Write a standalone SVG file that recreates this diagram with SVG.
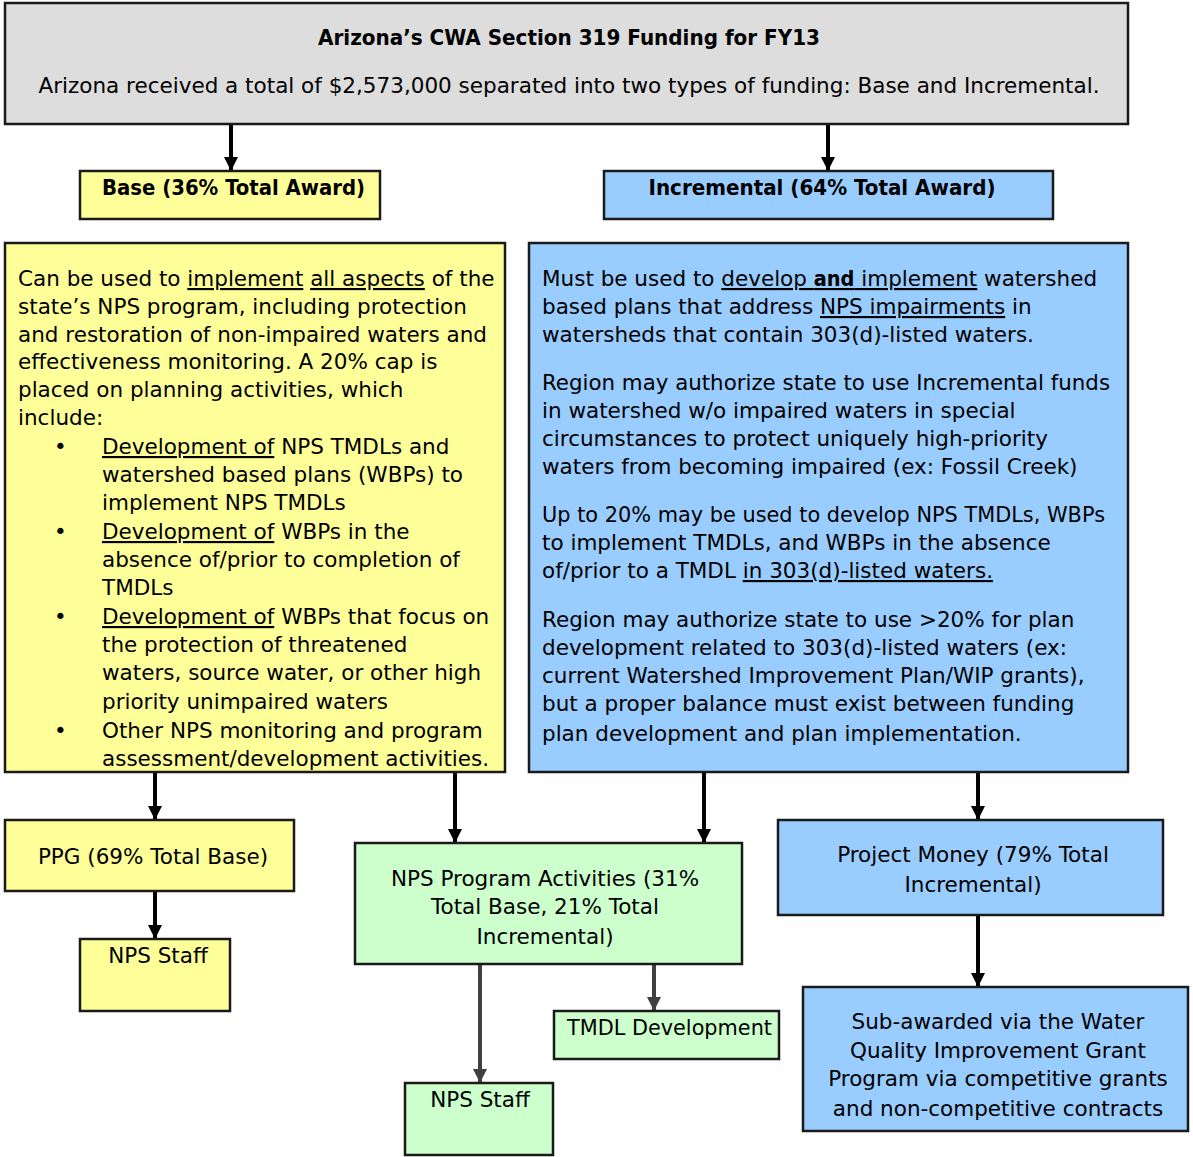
<svg xmlns="http://www.w3.org/2000/svg" width="1193" height="1157" viewBox="0 0 1193 1157">
<style>
.box{stroke:#1a1a1a;stroke-width:2.5}
.gray{fill:#dddddd}.yel{fill:#ffff99}.blu{fill:#99ccff}.grn{fill:#ccffcc}
text{font-family:"DejaVu Sans","Liberation Sans",sans-serif;font-size:21.5px;fill:#000}
.b{font-weight:bold;font-family:"DejaVu Sans Condensed","DejaVu Sans",sans-serif}
.c{text-anchor:middle}
.u{text-decoration:underline}
.con{stroke:#000;stroke-width:4;fill:none}
.con2{stroke:#404040;stroke-width:4;fill:none}
</style>
<defs>
<marker id="a" markerWidth="14" markerHeight="14" refX="13" refY="7" orient="auto" markerUnits="userSpaceOnUse" viewBox="0 0 14 14">
<path d="M0,0 L14,7 L0,14 Z" fill="#000"/>
</marker>
<marker id="a2" markerWidth="14" markerHeight="14" refX="13" refY="7" orient="auto" markerUnits="userSpaceOnUse" viewBox="0 0 14 14">
<path d="M0,0 L14,7 L0,14 Z" fill="#404040"/>
</marker>
</defs>

<g id="connectors">
<line class="con" x1="231" y1="125" x2="231" y2="170" marker-end="url(#a)"/>
<line class="con" x1="828" y1="125" x2="828" y2="170" marker-end="url(#a)"/>
<line class="con" x1="155" y1="773" x2="155" y2="819" marker-end="url(#a)"/>
<line class="con" x1="455" y1="773" x2="455" y2="842" marker-end="url(#a)"/>
<line class="con" x1="704" y1="773" x2="704" y2="842" marker-end="url(#a)"/>
<line class="con" x1="978" y1="773" x2="978" y2="819" marker-end="url(#a)"/>
<line class="con" x1="155" y1="892" x2="155" y2="938" marker-end="url(#a)"/>
<line class="con" x1="978" y1="916" x2="978" y2="986" marker-end="url(#a)"/>
<line class="con2" x1="480" y1="965" x2="480" y2="1082" marker-end="url(#a2)"/>
<line class="con2" x1="654" y1="965" x2="654" y2="1010" marker-end="url(#a2)"/>
</g>

<g id="title">
<rect class="box gray" x="5" y="3" width="1123" height="121"/>
<text class="b c" x="569" y="45" textLength="502" lengthAdjust="spacingAndGlyphs">Arizona’s CWA Section 319 Funding for FY13</text>
<text class="c" x="569" y="93">Arizona received a total of $2,573,000 separated into two types of funding: Base and Incremental.</text>
</g>

<g id="base">
<rect class="box yel" x="80" y="171" width="300" height="48"/>
<text class="b" x="102" y="195" textLength="263" lengthAdjust="spacingAndGlyphs">Base (36% Total Award)</text>
</g>

<g id="incremental">
<rect class="box blu" x="604" y="171" width="449" height="48"/>
<text class="b c" x="822" y="195" textLength="347" lengthAdjust="spacingAndGlyphs">Incremental (64% Total Award)</text>
</g>

<g id="base-detail">
<rect class="box yel" x="5" y="243" width="500" height="529"/>
<text x="18" y="286">Can be used to <tspan class="u">implement</tspan> <tspan class="u">all aspects</tspan> of the</text>
<text x="18" y="314">state’s NPS program, including protection</text>
<text x="18" y="342">and restoration of non-impaired waters and</text>
<text x="18" y="369">effectiveness monitoring. A 20% cap is</text>
<text x="18" y="397">placed on planning activities, which</text>
<text x="18" y="425">include:</text>
<text x="54" y="454">•</text>
<text x="102" y="454"><tspan class="u">Development of</tspan> NPS TMDLs and</text>
<text x="102" y="482">watershed based plans (WBPs) to</text>
<text x="102" y="510">implement NPS TMDLs</text>
<text x="54" y="539">•</text>
<text x="102" y="539"><tspan class="u">Development of</tspan> WBPs in the</text>
<text x="102" y="567">absence of/prior to completion of</text>
<text x="102" y="595">TMDLs</text>
<text x="54" y="624">•</text>
<text x="102" y="624"><tspan class="u">Development of</tspan> WBPs that focus on</text>
<text x="102" y="652">the protection of threatened</text>
<text x="102" y="680">waters, source water, or other high</text>
<text x="102" y="709">priority unimpaired waters</text>
<text x="54" y="738">•</text>
<text x="102" y="738">Other NPS monitoring and program</text>
<text x="102" y="766">assessment/development activities.</text>
</g>

<g id="incremental-detail">
<rect class="box blu" x="529" y="243" width="599" height="529"/>
<text x="542" y="286">Must be used to <tspan class="u">develop <tspan class="b">and</tspan> implement</tspan> watershed</text>
<text x="542" y="314">based plans that address <tspan class="u">NPS impairments</tspan> in</text>
<text x="542" y="342">watersheds that contain 303(d)-listed waters.</text>
<text x="542" y="390" textLength="568" lengthAdjust="spacingAndGlyphs">Region may authorize state to use Incremental funds</text>
<text x="542" y="418">in watershed w/o impaired waters in special</text>
<text x="542" y="446">circumstances to protect uniquely high-priority</text>
<text x="542" y="474">waters from becoming impaired (ex: Fossil Creek)</text>
<text x="542" y="522" textLength="563" lengthAdjust="spacingAndGlyphs">Up to 20% may be used to develop NPS TMDLs, WBPs</text>
<text x="542" y="550">to implement TMDLs, and WBPs in the absence</text>
<text x="542" y="578">of/prior to a TMDL <tspan class="u">in 303(d)-listed waters.</tspan></text>
<text x="542" y="627">Region may authorize state to use &gt;20% for plan</text>
<text x="542" y="655">development related to 303(d)-listed waters (ex:</text>
<text x="542" y="683">current Watershed Improvement Plan/WIP grants),</text>
<text x="542" y="711">but a proper balance must exist between funding</text>
<text x="542" y="741">plan development and plan implementation.</text>
</g>

<g id="ppg">
<rect class="box yel" x="5" y="820" width="289" height="71"/>
<text class="c" x="153" y="864">PPG (69% Total Base)</text>
</g>

<g id="nps-staff-base">
<rect class="box yel" x="80" y="939" width="150" height="72"/>
<text class="c" x="158" y="963">NPS Staff</text>
</g>

<g id="nps-program">
<rect class="box grn" x="355" y="843" width="387" height="121"/>
<text class="c" x="545" y="886">NPS Program Activities (31%</text>
<text class="c" x="545" y="914">Total Base, 21% Total</text>
<text class="c" x="545" y="944">Incremental)</text>
</g>

<g id="nps-staff-program">
<rect class="box grn" x="405" y="1083" width="148" height="72"/>
<text class="c" x="480" y="1107">NPS Staff</text>
</g>

<g id="tmdl">
<rect class="box grn" x="554" y="1011" width="225" height="48"/>
<text x="567" y="1035" textLength="205" lengthAdjust="spacingAndGlyphs">TMDL Development</text>
</g>

<g id="project-money">
<rect class="box blu" x="778" y="820" width="385" height="95"/>
<text class="c" x="973" y="862">Project Money (79% Total</text>
<text class="c" x="973" y="892">Incremental)</text>
</g>

<g id="sub-awarded">
<rect class="box blu" x="803" y="987" width="385" height="144"/>
<text class="c" x="998" y="1029">Sub-awarded via the Water</text>
<text class="c" x="998" y="1058">Quality Improvement Grant</text>
<text class="c" x="998" y="1086">Program via competitive grants</text>
<text class="c" x="998" y="1116">and non-competitive contracts</text>
</g>
</svg>
